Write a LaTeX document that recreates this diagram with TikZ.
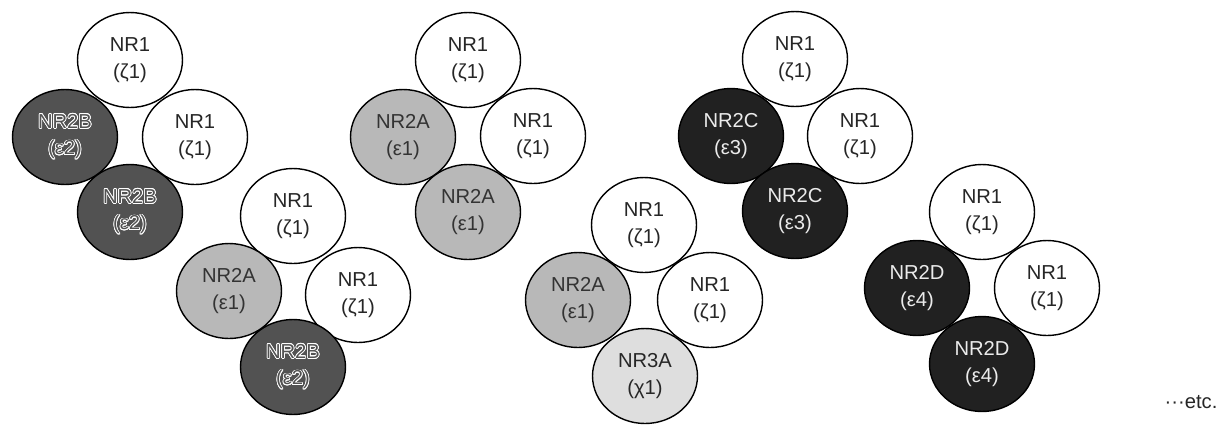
\documentclass[tikz,border=0pt]{standalone}
\usepackage{fontspec}
\setmainfont{Liberation Sans}
\usepackage{contour}
\contourlength{0.4pt}
\usepackage{tikz}
\usetikzlibrary{shapes.geometric}

\definecolor{nrBfill}{gray}{0.32}
\definecolor{nrAfill}{gray}{0.72}
\definecolor{nrCDfill}{gray}{0.13}
\definecolor{nrTfill}{gray}{0.87}

\newcommand{\hollow}[1]{\contour{white}{\textcolor{nrBfill}{#1}}}

\begin{document}
\begin{tikzpicture}[
  x=0.02cm, y=-0.02cm,
  font=\fontsize{11.5}{15}\selectfont,
  sub/.style={ellipse, draw=black, line width=0.8pt, minimum width=2.1cm,
              minimum height=1.9cm, inner sep=0pt, align=center},
  nrone/.style={sub, fill=white, text=black!85},
  nrtwoa/.style={sub, fill=nrAfill, text=black!80},
  nrtwob/.style={sub, fill=nrBfill},
  nrdark/.style={sub, fill=nrCDfill, text=white!92!black},
  nrthree/.style={sub, fill=nrTfill, text=black!85},
]
\useasboundingbox (0,0) rectangle (1224,424);

% ---- NR1 / NR2B ----
\node[nrone]  (t1) at (130,60)                 {NR1\\(ζ1)};
\node[nrtwob] (l1) at ([shift={(-65,77)}]t1)   {\hollow{NR2B}\\\hollow{(ε2)}};
\node[nrone]  (r1) at ([shift={(65,77)}]t1)    {NR1\\(ζ1)};
\node[nrtwob] (b1) at ([shift={(0,152)}]t1)    {\hollow{NR2B}\\\hollow{(ε2)}};

% ---- NR1 / NR2A / NR2B ----
\node[nrone]  (t2) at (293,216)                {NR1\\(ζ1)};
\node[nrtwoa] (l2) at ([shift={(-64,75)}]t2)   {NR2A\\(ε1)};
\node[nrone]  (r2) at ([shift={(65,79)}]t2)    {NR1\\(ζ1)};
\node[nrtwob] (b2) at ([shift={(0,151)}]t2)    {\hollow{NR2B}\\\hollow{(ε2)}};

% ---- NR1 / NR2A ----
\node[nrone]  (t3) at (468,60)                 {NR1\\(ζ1)};
\node[nrtwoa] (l3) at ([shift={(-65,77)}]t3)   {NR2A\\(ε1)};
\node[nrone]  (r3) at ([shift={(65,76)}]t3)    {NR1\\(ζ1)};
\node[nrtwoa] (b3) at ([shift={(0,152)}]t3)    {NR2A\\(ε1)};

% ---- NR1 / NR2A / NR3A ----
\node[nrone]   (t4) at (644,225)               {NR1\\(ζ1)};
\node[nrtwoa]  (l4) at ([shift={(-66,75)}]t4)  {NR2A\\(ε1)};
\node[nrone]   (r4) at ([shift={(66,75)}]t4)   {NR1\\(ζ1)};
\node[nrthree] (b4) at ([shift={(1,151)}]t4)   {NR3A\\(χ1)};

% ---- NR1 / NR2C ----
\node[nrone]  (t5) at (795,59)                 {NR1\\(ζ1)};
\node[nrdark] (l5) at ([shift={(-64,77)}]t5)   {NR2C\\(ε3)};
\node[nrone]  (r5) at ([shift={(65,77)}]t5)    {NR1\\(ζ1)};
\node[nrdark] (b5) at ([shift={(0,152)}]t5)    {NR2C\\(ε3)};

% ---- NR1 / NR2D ----
\node[nrone]  (t6) at (982,212)                {NR1\\(ζ1)};
\node[nrdark] (l6) at ([shift={(-65,76)}]t6)   {NR2D\\(ε4)};
\node[nrone]  (r6) at ([shift={(65,76)}]t6)    {NR1\\(ζ1)};
\node[nrdark] (b6) at ([shift={(0,152)}]t6)    {NR2D\\(ε4)};

\node[anchor=base, text=black!85] (etc) at (1191,408) {···etc.};

\end{tikzpicture}
\end{document}
